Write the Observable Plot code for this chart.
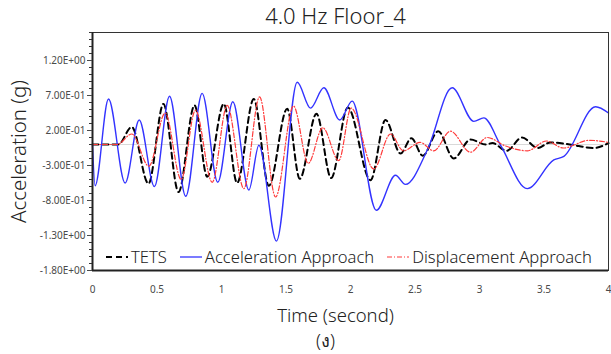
<!DOCTYPE html>
<html><head><meta charset="utf-8">
<script src="https://cdn.jsdelivr.net/npm/d3@7"></script>
<script src="https://cdn.jsdelivr.net/npm/@observablehq/plot@0.6"></script>
<style>
body{margin:0;background:#fff;font-family:"Noto Sans","DejaVu Sans",sans-serif;}
#wrap{position:relative;width:611px;height:354px;overflow:hidden;}
#legend{position:absolute;left:106px;top:245px;display:flex;align-items:center;font-size:16.6px;color:#222;font-weight:300;white-space:nowrap;}
#legend .item{display:flex;align-items:center;margin-right:13px;}
#legend svg{margin-right:3px;}
</style></head>
<body><div id="wrap"></div>
<script>
// ---- data ----
const seriesNames = ["TETS", "Acceleration Approach", "Displacement Approach"];
const seriesColors = ["#000000", "#3333ff", "#ff3b3b"];

const tetsT = [0, 0.2, 0.305, 0.434, 0.55, 0.667, 0.791, 0.889, 1.018, 1.121, 1.25, 1.367, 1.509, 1.607, 1.736, 1.85, 1.979, 2.155, 2.271, 2.388, 2.472, 2.56, 2.68, 2.80, 2.93, 3.05, 3.1, 3.21, 3.33, 3.45, 3.55, 3.7, 3.886, 4.0];
const tetsV = [0, 0, 0.25, -0.56, 0.58, -0.68, 0.56, -0.46, 0.58, -0.55, 0.65, -0.59, 0.51, -0.49, 0.44, -0.48, 0.53, -0.51, 0.35, -0.13, 0.09, -0.16, 0.19, -0.20, 0.07, 0.0, 0.02, -0.09, 0.10, -0.05, 0.03, 0.0, -0.05, 0.02];

const accT = [0, 0.02, 0.124, 0.253, 0.362, 0.48, 0.597, 0.723, 0.85, 0.971, 1.088, 1.212, 1.29, 1.426, 1.587, 1.69, 1.793, 1.917, 2.013, 2.2, 2.349, 2.426, 2.6, 2.788, 2.956, 3.033, 3.163, 3.37, 3.576, 3.654, 3.9, 4.0];
const accV = [0, -0.59, 0.65, -0.55, 0.35, -0.60, 0.69, -0.74, 0.73, -0.54, 0.61, -0.65, -0.01, -1.38, 0.89, 0.52, 0.81, 0.35, 0.62, -0.94, -0.44, -0.57, -0.06, 0.81, 0.33, 0.38, -0.01, -0.63, -0.22, -0.17, 0.54, 0.45];

const dispT = [0, 0.19, 0.305, 0.437, 0.563, 0.687, 0.798, 0.928, 1.044, 1.173, 1.295, 1.419, 1.558, 1.672, 1.785, 1.909, 2.005, 2.18, 2.31, 2.41, 2.54, 2.645, 2.775, 2.93, 3.06, 3.2, 3.37, 3.52, 3.65, 3.85, 4.0];
const dispV = [0, 0, 0.15, -0.31, 0.45, -0.50, 0.49, -0.54, 0.56, -0.63, 0.68, -0.75, 0.55, -0.27, 0.24, -0.23, 0.52, -0.35, 0.15, -0.09, 0.03, -0.09, 0.19, -0.11, 0.10, -0.02, -0.09, 0.05, -0.05, 0.06, 0.03];

const yMajorTicks = [-1.8, -1.3, -0.8, -0.3, 0.2, 0.7, 1.2];
const xTicks = [0, 0.5, 1, 1.5, 2, 2.5, 3, 3.5, 4];
const titleText = "4.0 Hz Floor_4";
const xTitle = "Time (second)";
const yTitle = "Acceleration (g)";
const subCaption = "(ง)";

// ---- build ----
const toRows = (T, V) => T.map((t, i) => ({t, v: V[i]}));
const tets = toRows(tetsT, tetsV);
const acc = toRows(accT, accV);
const disp = toRows(dispT, dispV);
const yMinorTicks = d3.range(-18, 17).map(d => d / 10);

function sci(d) {
  const [m, e] = d.toExponential(2).split("e");
  const ex = parseInt(e, 10);
  return m + "E" + (ex < 0 ? "-" : "+") + String(Math.abs(ex)).padStart(2, "0");
}

const font = "Noto Sans, DejaVu Sans, sans-serif";
const chart = Plot.plot({
  width: 611, height: 354,
  marginTop: 32, marginBottom: 84, marginLeft: 92, marginRight: 3,
  x: {domain: [0, 4]},
  y: {domain: [-1.8, 1.6]},
  style: {fontFamily: font, background: "white", overflow: "visible"},
  marks: [
    Plot.ruleY([0], {stroke: "#d9d9d9", strokeWidth: 1}),
    Plot.line(tets, {x: "t", y: "v", stroke: seriesColors[0], strokeWidth: 2, strokeDasharray: "6,4", curve: "monotone-x"}),
    Plot.line(acc, {x: "t", y: "v", stroke: seriesColors[1], strokeWidth: 1.4, curve: "monotone-x"}),
    Plot.line(disp, {x: "t", y: "v", stroke: seriesColors[2], strokeWidth: 1.2, strokeDasharray: "5,2,1,2", curve: "monotone-x"}),
    Plot.frame({stroke: "#333", strokeWidth: 1}),
    Plot.ruleX([0], {stroke: "#222", strokeWidth: 2}),
    Plot.ruleY([-1.8], {stroke: "#222", strokeWidth: 2}),
    Plot.axisY(yMinorTicks, {tickSize: 3, tickFormat: () => "", label: null, stroke: "#333"}),
    Plot.axisY(yMajorTicks, {tickSize: 5, tickPadding: 2, tickFormat: sci, label: null, fontSize: 10, color: "#4a4a4a"}),
    Plot.axisX(xTicks, {tickSize: 0, tickPadding: 15, tickFormat: d => String(d), label: null, fontSize: 10, color: "#4a4a4a"}),
    Plot.text([titleText], {frameAnchor: "top", textAnchor: "middle", lineAnchor: "middle", dx: -15, dy: -16, fontSize: 22, fill: "#222", fontWeight: 300}),
    Plot.text([yTitle], {frameAnchor: "left", textAnchor: "middle", lineAnchor: "middle", dx: -73, rotate: -90, fontSize: 20.5, fill: "#222", fontWeight: 300}),
    Plot.text([xTitle], {frameAnchor: "bottom", textAnchor: "middle", lineAnchor: "middle", dx: -15, dy: 46, fontSize: 18.5, fill: "#222", fontWeight: 300}),
    Plot.text([subCaption], {frameAnchor: "bottom", textAnchor: "middle", lineAnchor: "middle", dx: -25, dy: 71, fontSize: 18, fill: "#222", fontWeight: 300})
  ]
});
const wrap = document.getElementById("wrap");
wrap.appendChild(chart);

// legend overlay
const dashes = ["6,4", null, "5,2,1,2"];
const widths = [2, 1.3, 1.2];
const leg = document.createElement("div");
leg.id = "legend";
seriesNames.forEach((name, i) => {
  const it = document.createElement("div");
  it.className = "item";
  it.innerHTML = `<svg width="22" height="6"><line x1="0" x2="22" y1="3" y2="3" stroke="${seriesColors[i]}" stroke-width="${widths[i]}" ${dashes[i] ? `stroke-dasharray="${dashes[i]}"` : ""}/></svg><span>${name}</span>`;
  leg.appendChild(it);
});
wrap.appendChild(leg);
</script>
</body></html>
